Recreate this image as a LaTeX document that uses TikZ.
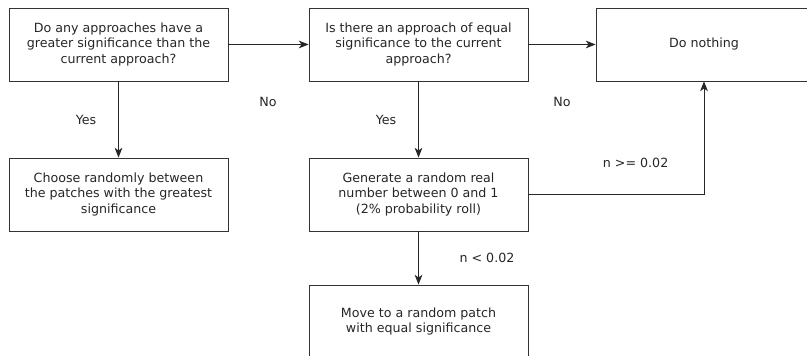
\documentclass[tikz,border=0pt]{standalone}
\usepackage{fontspec}
\setmainfont{DejaVu Sans}
\usetikzlibrary{arrows.meta}

\begin{document}
\begin{tikzpicture}[
  box/.style={draw=black!80, line width=0.6pt, rectangle, minimum width=5.475cm, minimum height=1.825cm,
              align=center, font=\fontsize{9}{10.7}\selectfont, text=black!85, inner sep=3pt},
  arr/.style={line width=0.6pt, draw=black!85, -{Stealth[length=7pt, width=5.5pt, inset=2pt]}},
  lbl/.style={font=\fontsize{9}{10.7}\selectfont, text=black!85}
]
\useasboundingbox (0,0) rectangle (20.175,-8.9);
\node[box] (greater) at (2.9625,  -1.1125) {Do any approaches have a\\greater significance than the\\current approach?};
\node[box] (equal)   at (10.4625, -1.1125) {Is there an approach of equal\\significance to the current\\approach?};
\node[box, minimum width=5.4cm] (nothing) at (17.6, -1.1125) {Do nothing};
\node[box] (choose)  at (2.9625,  -4.8625) {Choose randomly between\\the patches with the greatest\\significance};
\node[box] (roll)    at (10.4625, -4.8625) {Generate a random real\\number between 0 and 1\\(2\% probability roll)};
\node[box] (move)    at (10.4625, -8.0375) {Move to a random patch\\with equal significance};
\draw[arr] (greater) -- (equal);
\draw[arr] (equal) -- (nothing);
\draw[arr] (greater) -- (choose);
\draw[arr] (equal) -- (roll);
\draw[arr] (roll.east) -| (nothing.south);
\draw[arr] (roll) -- (move);
\node[lbl] (no1)  at (6.7,   -2.55)  {No};
\node[lbl] (no2)  at (14.05, -2.55)  {No};
\node[lbl] (yes1) at (2.15,  -3.0)   {Yes};
\node[lbl] (yes2) at (9.65,  -3.0)   {Yes};
\node[lbl] (ge)   at (15.89, -4.075) {n >= 0.02};
\node[lbl] (lt)   at (12.175,-6.45)  {n < 0.02};
\end{tikzpicture}
\end{document}
